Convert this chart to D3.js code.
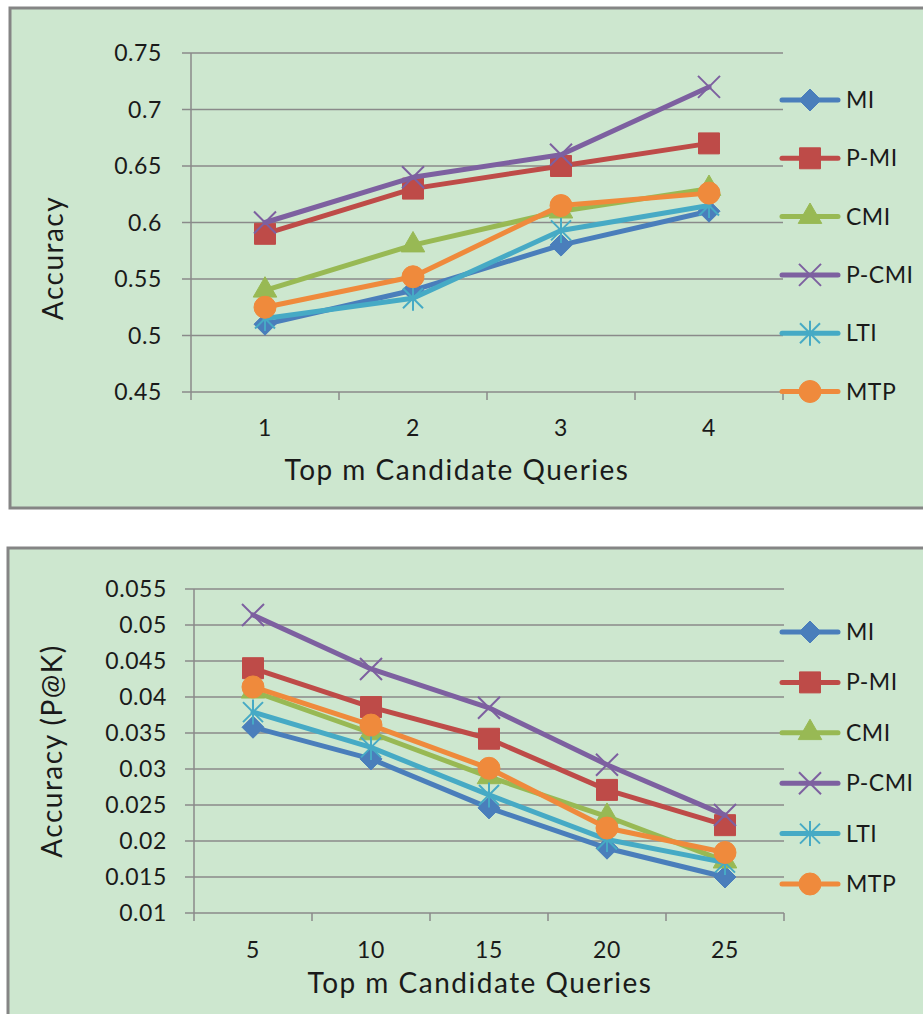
<!DOCTYPE html>
<html><head><meta charset="utf-8">
<script src="https://cdn.jsdelivr.net/npm/d3@7"></script>
<style>body{margin:0;background:#fff}svg{display:block}text{font-family:Lato,"Open Sans",sans-serif;fill:#1a1a1a}</style>
</head><body>
<svg id="c" width="923" height="1014"></svg>
<script>
const seriesNames = ["MI","P-MI","CMI","P-CMI","LTI","MTP"];
const seriesColors = ["#4a7ebb","#be4b48","#98b954","#7d60a0","#46aac5","#ef8a3c"];

const topCategories = ["1","2","3","4"];
const topYTicks = [0.45,0.5,0.55,0.6,0.65,0.7,0.75];
const topMI   = [0.510,0.540,0.580,0.610];
const topPMI  = [0.590,0.630,0.650,0.670];
const topCMI  = [0.540,0.580,0.610,0.630];
const topPCMI = [0.600,0.640,0.660,0.720];
const topLTI  = [0.515,0.533,0.593,0.615];
const topMTP  = [0.525,0.552,0.615,0.626];

const botCategories = ["5","10","15","20","25"];
const botYTicks = [0.01,0.015,0.02,0.025,0.03,0.035,0.04,0.045,0.05,0.055];
const botMI   = [0.0358,0.0314,0.0246,0.0190,0.0150];
const botPMI  = [0.0440,0.0386,0.0342,0.0271,0.0222];
const botCMI  = [0.0408,0.0350,0.0289,0.0234,0.0172];
const botPCMI = [0.0514,0.0439,0.0385,0.0306,0.0236];
const botLTI  = [0.0379,0.0330,0.0264,0.0202,0.0170];
const botMTP  = [0.0414,0.0361,0.0301,0.0218,0.0184];

const svg = d3.select("#c");

function markerPath(i){
  const p = d3.path();
  if(i===0){ const r=11; p.moveTo(0,-r);p.lineTo(r,0);p.lineTo(0,r);p.lineTo(-r,0);p.closePath(); return p.toString(); }
  if(i===1){ return d3.symbol(d3.symbolSquare, 440)(); }
  if(i===2){ return d3.symbol(d3.symbolTriangle, 240)(); }
  if(i===3){ const r=11; p.moveTo(-r,-r);p.lineTo(r,r);p.moveTo(-r,r);p.lineTo(r,-r); return p.toString(); }
  if(i===4){ const r=10; p.moveTo(-r,-r);p.lineTo(r,r);p.moveTo(-r,r);p.lineTo(r,-r);p.moveTo(0,-r*1.25);p.lineTo(0,r*1.25); return p.toString(); }
  return d3.symbol(d3.symbolCircle, 380)();
}
function drawMarker(g, i, x, y){
  const stroke = (i===3||i===4);
  g.append("path").attr("d", markerPath(i)).attr("transform",`translate(${x},${y})`)
    .attr("fill", stroke?"none":seriesColors[i])
    .attr("stroke", seriesColors[i]).attr("stroke-width", stroke?2:1);
}

function drawChart(cfg){
  const g = svg.append("g");
  g.append("rect").attr("x",cfg.panel[0]).attr("y",cfg.panel[1]).attr("width",cfg.panel[2]).attr("height",cfg.panel[3])
    .attr("fill","#cde7cf").attr("stroke","#858585").attr("stroke-width",3);
  const x = d3.scaleBand().domain(cfg.cats).range([cfg.left,cfg.right]);
  const y = d3.scaleLinear().domain(cfg.domain).range([cfg.bottom,cfg.top]);
  g.selectAll(".grid").data(cfg.yticks).join("line")
    .attr("x1",cfg.left-9).attr("x2",cfg.right).attr("y1",d=>y(d)).attr("y2",d=>y(d))
    .attr("stroke","#8a8a8a").attr("stroke-width",1.5);
  g.append("line").attr("x1",cfg.left).attr("x2",cfg.left).attr("y1",cfg.top).attr("y2",cfg.bottom+8)
    .attr("stroke","#8a8a8a").attr("stroke-width",1.5);
  const bounds = cfg.cats.map(c=>x(c)+x.bandwidth());
  g.selectAll(".xt").data(bounds).join("line")
    .attr("x1",d=>d).attr("x2",d=>d).attr("y1",cfg.bottom).attr("y2",cfg.bottom+8)
    .attr("stroke","#8a8a8a").attr("stroke-width",1.5);
  g.selectAll(".yl").data(cfg.yticks).join("text")
    .attr("x",cfg.ylabelX).attr("y",d=>y(d)).attr("dy","0.35em").attr("text-anchor","end")
    .attr("font-size",cfg.fs).attr("letter-spacing","0.6px").text(d=>String(d));
  g.selectAll(".xl").data(cfg.cats).join("text")
    .attr("x",d=>x(d)+x.bandwidth()/2).attr("y",cfg.xlabelY).attr("dy","0.35em").attr("text-anchor","middle")
    .attr("font-size",cfg.fs).attr("letter-spacing","0.6px").text(d=>d);
  g.append("text").attr("x",cfg.xTitle[0]).attr("y",cfg.xTitle[1]).attr("dy","0.35em").attr("text-anchor","middle")
    .attr("font-size",cfg.tfs).attr("letter-spacing","1.5px").text("Top m Candidate Queries");
  g.append("text").attr("transform",`translate(${cfg.yTitle[0]},${cfg.yTitle[1]}) rotate(-90)`).attr("dy","0.35em")
    .attr("text-anchor","middle").attr("font-size",cfg.tfs).attr("letter-spacing","1.5px").text(cfg.yTitleText);
  const line = d3.line().x((d,i)=>x(cfg.cats[i])+x.bandwidth()/2).y(d=>y(d));
  cfg.series.forEach((vals,si)=>{
    g.append("path").attr("d",line(vals)).attr("fill","none").attr("stroke",seriesColors[si])
      .attr("stroke-width",5).attr("stroke-linejoin","round").attr("stroke-linecap","round");
    vals.forEach((v,i)=>drawMarker(g,si,x(cfg.cats[i])+x.bandwidth()/2,y(v)));
  });
  seriesNames.forEach((n,i)=>{
    const ly = cfg.legY0 + i*cfg.legStep;
    g.append("line").attr("x1",cfg.legX).attr("x2",cfg.legX+56).attr("y1",ly).attr("y2",ly)
      .attr("stroke",seriesColors[i]).attr("stroke-width",5).attr("stroke-linecap","round");
    drawMarker(g,i,cfg.legX+28,ly);
    g.append("text").attr("x",cfg.legX+64).attr("y",ly).attr("dy","0.35em").attr("font-size",cfg.fs)
      .attr("letter-spacing","0.5px").text(n);
  });
}

drawChart({
  panel:[10,8,916,500], cats:topCategories, domain:[0.45,0.75], yticks:topYTicks,
  left:191,right:783,top:53,bottom:392, ylabelX:162, xlabelY:428, fs:23, tfs:28,
  xTitle:[457,470], yTitle:[53,258], yTitleText:"Accuracy",
  series:[topMI,topPMI,topCMI,topPCMI,topLTI,topMTP],
  legX:782, legY0:100, legStep:58.3
});
drawChart({
  panel:[8,548,918,470], cats:botCategories, domain:[0.01,0.055], yticks:botYTicks,
  left:194,right:784,top:589,bottom:913, ylabelX:167, xlabelY:950, fs:23, tfs:28,
  xTitle:[480,983], yTitle:[52,751], yTitleText:"Accuracy (P@K)",
  series:[botMI,botPMI,botCMI,botPCMI,botLTI,botMTP],
  legX:782, legY0:632, legStep:50.4
});
</script>
</body></html>
